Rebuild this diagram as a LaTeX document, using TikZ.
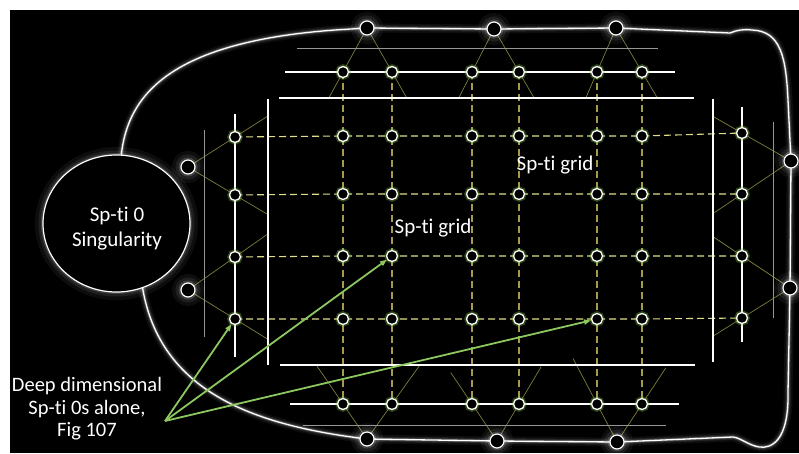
\documentclass[tikz,border=0pt]{standalone}
\usepackage{fontspec}
\setmainfont{Carlito}[Ligatures=NoCommon]
\usetikzlibrary{calc,arrows.meta,shapes.geometric}
\pgfdeclarelayer{bg}
\pgfsetlayers{bg,main}
\definecolor{hdash}{RGB}{222,222,140}
\definecolor{vdash}{RGB}{165,155,75}
\definecolor{olivethin}{RGB}{125,125,60}
\definecolor{arrowgreen}{RGB}{140,200,95}
\definecolor{halo}{RGB}{130,200,70}
\definecolor{bargray}{RGB}{150,150,150}
\begin{document}
\begin{tikzpicture}[x=1pt,y=-1pt,
  gnode/.style={circle,draw=white,fill=black,line width=1.3pt,minimum size=11pt,inner sep=0pt,
    preaction={draw=halo,line width=4.5pt,opacity=0.35}},
  bignode/.style={circle,draw=white,fill=black,line width=1.2pt,minimum size=14pt,inner sep=0pt,
    preaction={draw=white,line width=18pt,opacity=0.05},
    preaction={draw=white,line width=11pt,opacity=0.08},
    preaction={draw=white,line width=5pt,opacity=0.15}},
  singnode/.style={ellipse,draw=white,fill=black,line width=1.2pt,minimum width=147pt,minimum height=137pt,inner sep=0pt,
    preaction={draw=white,line width=16pt,opacity=0.05},
    preaction={draw=white,line width=9pt,opacity=0.08},
    preaction={draw=white,line width=4pt,opacity=0.15}},
  txt/.style={text=white,font=\fontsize{21}{25}\selectfont,align=center,inner sep=0pt},
  hd/.style={draw=hdash,line width=1.1pt,dash pattern=on 7pt off 4pt},
  vd/.style={draw=vdash,line width=1.1pt,dash pattern=on 7pt off 4pt},
  thin/.style={draw=olivethin,line width=0.7pt},
  bar/.style={draw=white,line width=2.4pt},
  grayline/.style={draw=bargray,line width=1pt},
  boundary/.style={draw=white,line width=1.3pt,
    preaction={draw=white,line width=9pt,opacity=0.05},
    preaction={draw=white,line width=5.5pt,opacity=0.09},
    preaction={draw=white,line width=3pt,opacity=0.2}},
  arr/.style={draw=arrowgreen,line width=1.8pt,-{Triangle[length=7pt,width=5pt]}}
]
\useasboundingbox (0,0) rectangle (799,453);
\begin{pgfonlayer}{bg}
  \fill[white] (0,0) rectangle (799,453);
  \fill[black] (10,10) rectangle (799,453);
\end{pgfonlayer}

% singularity
\node[singnode] (sing) at (116.5,223.5) {};
\node[txt] (singtext) at (117,229) {Sp-ti 0\\Singularity};

% big outer nodes
\node[bignode] (ot1) at (367,28) {};
\node[bignode] (ot2) at (494,29) {};
\node[bignode] (ot3) at (616,28) {};
\node[bignode] (ob1) at (367,439) {};
\node[bignode] (ob2) at (497,441) {};
\node[bignode] (ob3) at (617,442) {};
\node[bignode] (ol1) at (188,167) {};
\node[bignode] (ol2) at (188,290) {};
\node[bignode] (or1) at (791,161) {};
\node[bignode] (or2) at (790,288) {};

% grid nodes
\foreach \x [count=\c] in {343,392,472,519,597,642} {
  \node[gnode] (T\c) at (\x,72) {};
  \node[gnode] (B\c) at (\x,404) {};
  \foreach \y [count=\r] in {136,194,256,319}
    \node[gnode] (m\r\c) at (\x,\y) {};
}
\foreach \y [count=\r] in {137,195,257,319} \node[gnode] (L\r) at (235,\y) {};
\foreach \y [count=\r] in {133,194,256,318} \node[gnode] (R\r) at (742,\y) {};

\begin{pgfonlayer}{bg}
  % thin olive connectors from outer nodes through grid nodes
  \foreach \o/\g in {ot1/T1,ot1/T2,ot2/T3,ot2/T4,ot3/T5,ot3/T6}
    \draw[thin] (\o.center) -- ($(\o.center)!1.59!(\g.center)$);
  \draw[thin] (ob1.center) -- ($(ob1.center)!2.11!(B1.center)$);
  \draw[thin] (ob1.center) -- ($(ob1.center)!2.11!(B2.center)$);
  \draw[thin] (ob2.center) -- ($(ob2.center)!1.85!(B3.center)$);
  \draw[thin] (ob2.center) -- ($(ob2.center)!2.0!(B4.center)$);
  \draw[thin] (ob3.center) -- ($(ob3.center)!2.2!(B5.center)$);
  \draw[thin] (ob3.center) -- ($(ob3.center)!1.95!(B6.center)$);
  \foreach \o/\g in {ol1/L1,ol1/L2,ol2/L3,ol2/L4}
    \draw[thin] (\o.center) -- ($(\o.center)!1.68!(\g.center)$);
  \foreach \o/\g in {or1/R1,or1/R2,or2/R3,or2/R4}
    \draw[thin] (\o.center) -- ($(\o.center)!1.6!(\g.center)$);
  % dashed grid
  \foreach \r in {1,...,4}
    \draw[hd] (L\r.center) -- (m\r1.center) -- (m\r2.center) -- (m\r3.center) -- (m\r4.center) -- (m\r5.center) -- (m\r6.center) -- (R\r.center);
  \foreach \c in {1,...,6}
    \draw[vd] (T\c.center) -- (m1\c.center) -- (m2\c.center) -- (m3\c.center) -- (m4\c.center) -- (B\c.center);
  % gray thin lines
  \draw[grayline] (297,48) -- (658,48);
  \draw[grayline] (303,425) -- (666,425);
  \draw[grayline] (204,130) -- (204,337);
  \draw[grayline] (773,122) -- (773,318);
  % white bars
  \draw[bar] (285,72) -- (675,72);
  \draw[bar] (279,98) -- (694,98);
  \draw[bar] (280,365) -- (695,365);
  \draw[bar] (290,404) -- (679,404);
  \draw[bar] (268,99) -- (268,365);
  \draw[bar] (235,114) -- (235,357);
  \draw[bar] (713,99) -- (713,362);
  \draw[bar] (742,107) -- (742,342);
  % boundary
  \draw[boundary] (sing.86) .. controls (128,95) and (170,42) .. (335,30)
     -- (ot1.center) -- (ot2.center) -- (ot3.center) -- (730,33)
     .. controls (737,30) and (744,29) .. (752,30)
     .. controls (781,31) and (786,58) .. (788,100)
     -- (or1.center) -- (or2.center) -- (788,392)
     .. controls (789,440) and (772,449) .. (759,447)
     .. controls (748,445) and (741,438) .. (733,437)
     -- (ob3.center) -- (ob2.center) -- (ob1.center)
     .. controls (250,425) and (160,390) .. (sing.-68);
\end{pgfonlayer}

% labels
\node[txt] (lab1) at (555,165) {Sp-ti grid};
\node[txt] (lab2) at (433,228) {Sp-ti grid};
\node[txt,font=\fontsize{20.5}{22.5}\selectfont] (note) at (87,409) {Deep dimensional\\Sp-ti 0s alone,\\Fig 107};

% arrows
\coordinate (src) at (165,421);
\draw[arr] (src) -- (L4);
\draw[arr] (src) -- (m32);
\draw[arr] (src) -- (m45);
\end{tikzpicture}
\end{document}
